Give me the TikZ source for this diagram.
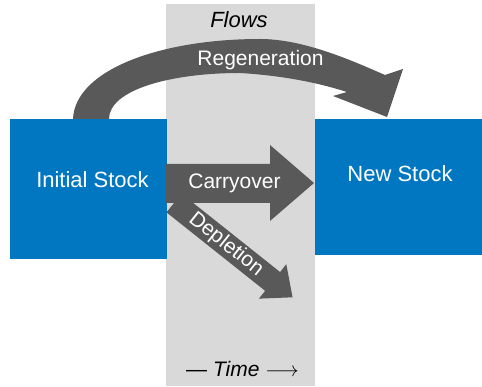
\documentclass[tikz,border=0pt]{standalone}
\usepackage{fontspec}
\setmainfont{Liberation Sans}
\usepackage{xcolor}
\usepackage{tikz}
\usetikzlibrary{positioning}
\definecolor{stockblue}{HTML}{0077C0}
\definecolor{flowbg}{HTML}{D9D9D9}
\definecolor{flowgray}{HTML}{595959}

\begin{document}
\begin{tikzpicture}[
    x=1pt, y=-1pt,
    band/.style={rectangle, fill=flowbg, inner sep=0pt, anchor=north west},
    stock/.style={rectangle, fill=stockblue, inner sep=0pt,
      anchor=north west},
    stocklabel/.style={text=white, font=\fontsize{22}{26}\selectfont,
      anchor=base, inner sep=0pt},
    flowarrow/.style={fill=flowgray},
    flowlabel/.style={text=white, font=\fontsize{21}{25}\selectfont,
      inner sep=0pt},
    caption/.style={font=\fontsize{22}{26}\selectfont\itshape,
      anchor=base, inner sep=0pt},
]
\useasboundingbox (0,0) rectangle (482,387);

% ── Flow band ──
\node[band, minimum width=149pt, minimum height=382pt] (flowband) at (166,4) {};

% ── Stock boxes ──
\node[stock, minimum width=157pt, minimum height=140pt] (init) at (9.5,119) {};
\node[stock, minimum width=167pt, minimum height=136pt] (new) at (315,119) {};

\node[stocklabel] (initlbl) at (92.5,187.3) {Initial Stock};
\node[stocklabel] (newlbl) at (400,181.7) {New Stock};

% ── Depletion ──
\begin{scope}[shift={(174,203)}, rotate=-38.5]
  \fill[flowarrow] (0,-12) -- (126,-12) -- (126,-22) -- (151.5,0)
    -- (126,22) -- (126,12) -- (0,12) -- cycle;
\end{scope}
\node[flowlabel, rotate=-38.5] (depletelbl) at (226,244.5) {Depletion};

% ── Carryover ──
\fill[flowarrow] (166,164) -- (270,164) -- (270,145) -- (314,183)
  -- (270,221) -- (270,203) -- (166,203) -- cycle;
\node[flowlabel, anchor=base] (carrylbl) at (234.5,188.3) {Carryover};

% ── Regeneration ──
\fill[flowarrow] (73,119) .. controls (75,70) and (160,39) .. (260,39)
  .. controls (305,39) and (355,62) .. (385,75) -- (403,69) -- (387,117)
  -- (333,96) -- (347,92) .. controls (325,85) and (290,76) .. (240,73)
  .. controls (170,73) and (109,90) .. (109,119) -- cycle;
\node[flowlabel, anchor=base] (regenlbl) at (260.5,66) {Regeneration};

% ── Captions ──
\node[caption] (flows) at (239,28) {Flows};
\node[anchor=base, inner sep=0pt, font=\fontsize{21}{25}\selectfont]
  (time) at (242.5,377) {— \textit{Time} $\longrightarrow$};

\end{tikzpicture}
\end{document}
